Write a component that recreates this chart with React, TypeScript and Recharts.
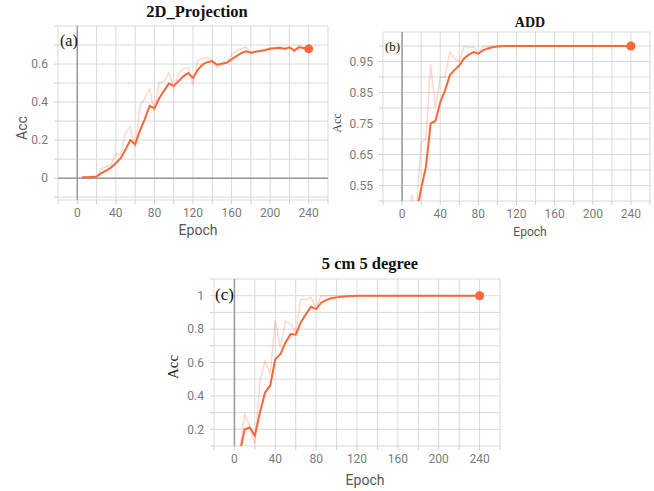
import React from "react";
import { LineChart, Line, XAxis, YAxis, CartesianGrid, ReferenceLine } from "recharts";

const epochs = [
  5, 10, 15, 20, 25, 30, 35, 40, 45, 50, 55, 60, 65, 70, 75, 80, 85, 90, 95, 100, 105, 110, 115, 120,
  125, 130, 135, 140, 145, 150, 155, 160, 165, 170, 175, 180, 185, 190, 195, 200, 205, 210, 215, 220,
  225, 230, 235, 240,
];

// (a) 2D_Projection
const projSmooth = [
  0.004, 0.004, 0.006, 0.008, 0.026, 0.04, 0.055, 0.08, 0.105, 0.15, 0.2, 0.178, 0.25, 0.31, 0.38, 0.367,
  0.42, 0.46, 0.497, 0.485, 0.51, 0.535, 0.553, 0.527, 0.57, 0.598, 0.61, 0.614, 0.596, 0.602, 0.607, 0.625,
  0.642, 0.657, 0.667, 0.66, 0.664, 0.668, 0.673, 0.68, 0.683, 0.685, 0.68, 0.687, 0.672, 0.688, 0.684, 0.68,
];
const projRaw = [
  0.005, 0.003, 0.01, 0.005, 0.05, 0.06, 0.07, 0.13, 0.12, 0.24, 0.27, 0.16, 0.38, 0.42, 0.47, 0.35,
  0.5, 0.51, 0.555, 0.47, 0.55, 0.575, 0.58, 0.49, 0.62, 0.63, 0.63, 0.62, 0.58, 0.61, 0.61, 0.65,
  0.67, 0.68, 0.69, 0.655, 0.668, 0.672, 0.68, 0.686, 0.686, 0.687, 0.675, 0.692, 0.66, 0.7, 0.68, 0.678,
];

// (b) ADD
const addSmooth = [
  0.3, 0.38, 0.46, 0.54, 0.61, 0.75, 0.758, 0.818, 0.856, 0.905, 0.923, 0.937, 0.96, 0.972, 0.98, 0.975,
  0.986, 0.992, 0.996, 0.998, 0.999, 1, 1, 1, 1, 1, 1, 1, 1, 1, 1, 1,
  1, 1, 1, 1, 1, 1, 1, 1, 1, 1, 1, 1, 1, 1, 1, 1,
];
const addRaw = [
  0.42, 0.52, 0.47, 0.69, 0.7, 0.94, 0.8, 0.9, 0.9, 0.98, 0.96, 0.95, 1, 0.995, 0.997, 0.975,
  0.998, 1, 1, 1, 1, 1, 1, 1, 1, 1, 1, 1, 1, 1, 1, 1,
  1, 1, 1, 1, 1, 1, 1, 1, 1, 1, 1, 1, 1, 1, 1, 1,
];

// (c) 5 cm 5 degree
const degSmooth = [
  0.05, 0.2, 0.211, 0.162, 0.3, 0.42, 0.461, 0.62, 0.65, 0.72, 0.77, 0.766, 0.84, 0.89, 0.934, 0.92,
  0.958, 0.975, 0.985, 0.99, 0.994, 0.997, 0.998, 0.999, 1, 1, 1, 1, 1, 1, 1, 1,
  1, 1, 1, 1, 1, 1, 1, 1, 1, 1, 1, 1, 1, 1, 1, 1,
];
const degRaw = [
  0.07, 0.29, 0.22, 0.11, 0.49, 0.61, 0.53, 0.85, 0.69, 0.85, 0.83, 0.78, 0.98, 0.975, 0.99, 0.93,
  1, 1, 1, 1, 1, 1, 1, 1, 1, 1, 1, 1, 1, 1, 1, 1,
  1, 1, 1, 1, 1, 1, 1, 1, 1, 1, 1, 1, 1, 1, 1, 1,
];

const xTicks = [-20, 0, 20, 40, 60, 80, 100, 120, 140, 160, 180, 200, 220, 240, 260];
const projTicks = [-0.1, 0, 0.1, 0.2, 0.3, 0.4, 0.5, 0.6, 0.7, 0.8];
const addTicks = [0.5, 0.55, 0.6, 0.65, 0.7, 0.75, 0.8, 0.85, 0.9, 0.95, 1];
const degTicks = [0.1, 0.2, 0.3, 0.4, 0.5, 0.6, 0.7, 0.8, 0.9, 1, 1.1];

const ORANGE = "#f4683a";
const GRID = "#d9d9d9";
const TICK_FONT = { fontFamily: "Roboto, sans-serif", fontSize: 12, fill: "#7a7a7a" };

const rows = (smooth: number[], raw: number[]) =>
  epochs.map((e, i) => ({ epoch: e, smooth: smooth[i], raw: raw[i] }));

const xFmt = (v: number) => (v >= 0 && v <= 240 && v % 40 === 0 ? String(v) : "");
const projFmt = (v: number) => {
  const k = Math.round(v * 10);
  if (k === 0) return "0";
  return k > 0 && k % 2 === 0 && k <= 6 ? v.toFixed(1) : "";
};
const addFmt = (v: number) => (Math.round(v * 100) % 10 === 5 ? v.toFixed(2) : "");
const degFmt = (v: number) => {
  const k = Math.round(v * 10);
  if (k === 10) return "1";
  return k % 2 === 0 && k < 10 ? v.toFixed(1) : "";
};

function EndDot(props: any) {
  const { cx, cy, index } = props;
  if (index !== epochs.length - 1) return <g key={index} />;
  return <circle key={index} cx={cx} cy={cy} r={4.5} fill={ORANGE} stroke="none" />;
}

interface PanelProps {
  left: number;
  top: number;
  width: number;
  height: number;
  marginTop: number;
  marginRight: number;
  yWidth: number;
  yDomain: [number, number];
  yTicks: number[];
  yFmt: (v: number) => string;
  data: any[];
  zeroY?: boolean;
}

function Panel(p: PanelProps) {
  return (
    <div style={{ position: "absolute", left: p.left, top: p.top }}>
      <LineChart
        width={p.width}
        height={p.height}
        data={p.data}
        margin={{ top: p.marginTop, right: p.marginRight, left: 0, bottom: 0 }}
      >
        <CartesianGrid stroke={GRID} strokeWidth={1} />
        <XAxis
          dataKey="epoch"
          type="number"
          domain={[-20, 260]}
          ticks={xTicks}
          tickFormatter={xFmt}
          interval={0}
          height={40}
          axisLine={false}
          tickSize={4}
          tickMargin={4}
          tickLine={{ stroke: "#cfcfcf" }}
          tick={TICK_FONT}
          allowDataOverflow
        />
        <YAxis
          type="number"
          domain={p.yDomain}
          ticks={p.yTicks}
          tickFormatter={p.yFmt}
          interval={0}
          width={p.yWidth}
          axisLine={false}
          tickSize={4}
          tickMargin={6}
          tickLine={{ stroke: "#cfcfcf" }}
          tick={TICK_FONT}
          allowDataOverflow
        />
        <ReferenceLine x={0} stroke="#9a9a9a" strokeWidth={1.5} />
        {p.zeroY && <ReferenceLine y={0} stroke="#9a9a9a" strokeWidth={1.5} />}
        <Line
          dataKey="raw"
          stroke={ORANGE}
          strokeOpacity={0.25}
          strokeWidth={1.5}
          dot={false}
          isAnimationActive={false}
        />
        <Line
          dataKey="smooth"
          stroke={ORANGE}
          strokeWidth={2}
          dot={EndDot}
          activeDot={false}
          isAnimationActive={false}
        />
      </LineChart>
    </div>
  );
}

function Txt(props: {
  x: number;
  y: number;
  text: string;
  size: number;
  font: string;
  color: string;
  bold?: boolean;
  rotate?: boolean;
  anchor?: "left" | "center";
}) {
  const tx = props.anchor === "left" ? "0" : "-50%";
  return (
    <div
      style={{
        position: "absolute",
        left: props.x,
        top: props.y,
        transform: `translate(${tx}, -50%)${props.rotate ? " rotate(-90deg)" : ""}`,
        fontFamily: props.font,
        fontSize: props.size,
        fontWeight: props.bold ? "bold" : "normal",
        color: props.color,
        whiteSpace: "nowrap",
        lineHeight: 1,
      }}
    >
      {props.text}
    </div>
  );
}

const SERIF = "'Liberation Serif', 'Times New Roman', serif";
const SANS = "Roboto, sans-serif";

export default function App() {
  return (
    <div
      style={{
        position: "absolute",
        left: 0,
        top: 0,
        width: 654,
        height: 491,
        background: "#fff",
        overflow: "hidden",
      }}
    >
      <Panel
        left={0}
        top={0}
        width={330}
        height={240}
        marginTop={26}
        marginRight={2}
        yWidth={58}
        yDomain={[-0.115, 0.8]}
        yTicks={projTicks}
        yFmt={projFmt}
        data={rows(projSmooth, projRaw)}
        zeroY
      />
      <Panel
        left={325}
        top={0}
        width={329}
        height={241}
        marginTop={32}
        marginRight={4}
        yWidth={58}
        yDomain={[0.5, 1.045]}
        yTicks={addTicks}
        yFmt={addFmt}
        data={rows(addSmooth, addRaw)}
      />
      <Panel
        left={150}
        top={240}
        width={360}
        height={246}
        marginTop={39}
        marginRight={10}
        yWidth={64}
        yDomain={[0.1, 1.1]}
        yTicks={degTicks}
        yFmt={degFmt}
        data={rows(degSmooth, degRaw)}
      />

      <Txt x={197} y={12} text="2D_Projection" size={16.5} font={SERIF} color="#111" bold />
      <Txt x={530} y={23} text="ADD" size={14} font={SERIF} color="#111" bold />
      <Txt x={370} y={264} text="5 cm 5 degree" size={16.5} font={SERIF} color="#111" bold />

      <Txt x={60} y={41} text="(a)" size={16} font={SERIF} color="#111" anchor="left" />
      <Txt x={385} y={46} text="(b)" size={13} font={SERIF} color="#111" anchor="left" />
      <Txt x={215} y={294} text="(c)" size={17} font={SERIF} color="#111" anchor="left" />

      <Txt x={198} y={230} text="Epoch" size={14} font={SANS} color="#555" />
      <Txt x={530} y={232} text="Epoch" size={12} font={SANS} color="#555" />
      <Txt x={365} y={480} text="Epoch" size={14} font={SANS} color="#555" />

      <Txt x={22} y={128} text="Acc" size={14} font={SANS} color="#555" rotate />
      <Txt x={337} y={123} text="Acc" size={12} font={SERIF} color="#333" rotate />
      <Txt x={173} y={367} text="Acc" size={15} font={SERIF} color="#222" rotate />
    </div>
  );
}
